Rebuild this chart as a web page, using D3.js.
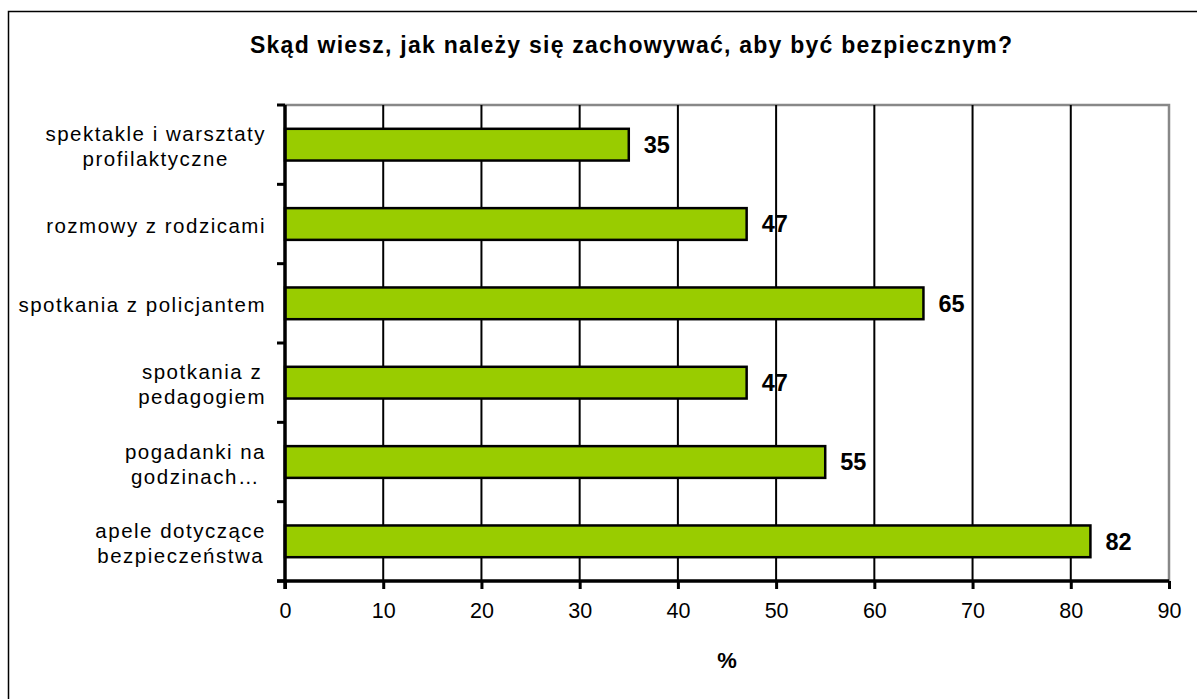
<!DOCTYPE html>
<html>
<head>
<meta charset="utf-8">
<script src="https://cdn.jsdelivr.net/npm/d3@7"></script>
<style>
  html, body { margin: 0; padding: 0; background: #fff; }
  svg { display: block; font-family: Arial, "Liberation Sans", sans-serif; }
</style>
</head>
<body>
<svg id="chart" width="1197" height="699"></svg>
<script>
const categories = [
  ["spektakle i warsztaty", "profilaktyczne"],
  ["rozmowy z rodzicami"],
  ["spotkania z policjantem"],
  ["spotkania z ", "pedagogiem"],
  ["pogadanki na", "godzinach…"],
  ["apele dotyczące", "bezpieczeństwa"]
];
const values = [35, 47, 65, 47, 55, 82];
const xTicks = [0, 10, 20, 30, 40, 50, 60, 70, 80, 90];
const title = "Skąd wiesz, jak należy się zachowywać, aby być bezpiecznym?";
const xTitle = "%";

const svg = d3.select("#chart");
const margin = { left: 285, top: 105, right: 1169, bottom: 581 };

// outer frame
svg.append("rect")
  .attr("x", 8.5).attr("y", 11.5)
  .attr("width", 1230).attr("height", 730)
  .attr("fill", "none").attr("stroke", "#000").attr("stroke-width", 1.5);

const x = d3.scaleLinear().domain([0, 90]).range([margin.left, margin.right]);
const y = d3.scaleBand().domain(d3.range(categories.length))
  .range([margin.top, margin.bottom]).paddingInner(0.6).paddingOuter(0.3);
const yb = d3.scaleBand().domain(d3.range(categories.length))
  .range([margin.top, margin.bottom]);

// plot border (top/right gray)
svg.append("path")
  .attr("d", `M${margin.left},${margin.top}H${margin.right}V${margin.bottom}`)
  .attr("fill", "none").attr("stroke", "#888").attr("stroke-width", 2.5);

// gridlines
svg.append("g").selectAll("line")
  .data(xTicks.filter(t => t > 0 && t < 90))
  .join("line")
  .attr("x1", d => x(d)).attr("x2", d => x(d))
  .attr("y1", margin.top).attr("y2", margin.bottom)
  .attr("stroke", "#000").attr("stroke-width", 2);

// bars
svg.append("g").selectAll("rect")
  .data(values)
  .join("rect")
  .attr("x", x(0))
  .attr("y", (d, i) => y(i))
  .attr("width", d => x(d) - x(0))
  .attr("height", y.bandwidth())
  .attr("fill", "#99CC00")
  .attr("stroke", "#000").attr("stroke-width", 2.5);

// value labels
svg.append("g").selectAll("text")
  .data(values)
  .join("text")
  .attr("x", d => x(d) + 15)
  .attr("y", (d, i) => y(i) + y.bandwidth() / 2)
  .attr("dy", "0.36em")
  .attr("font-size", 23.5).attr("font-weight", "bold")
  .text(d => d);

// x axis
const xAxis = d3.axisBottom(x).tickValues(xTicks).tickSize(8).tickPadding(14);
const gx = svg.append("g").attr("transform", `translate(0,${margin.bottom})`).call(xAxis);
gx.select(".domain").attr("stroke", "#000").attr("stroke-width", 3.5)
  .attr("d", `M${margin.left - 8},0H${margin.right}`);
gx.selectAll(".tick line").attr("stroke", "#000").attr("stroke-width", 3);
gx.selectAll(".tick text").attr("font-size", 21.5).attr("fill", "#000")
  .attr("font-family", "Arial, 'Liberation Sans', sans-serif");

// y axis
const yAxisG = svg.append("g");
yAxisG.append("line")
  .attr("x1", margin.left).attr("x2", margin.left)
  .attr("y1", margin.top).attr("y2", margin.bottom + 8)
  .attr("stroke", "#000").attr("stroke-width", 3.5);
yAxisG.selectAll("line.tk")
  .data(d3.range(categories.length + 1))
  .join("line").attr("class", "tk")
  .attr("x1", margin.left - 8).attr("x2", margin.left)
  .attr("y1", i => i < categories.length ? yb(i) : margin.bottom)
  .attr("y2", i => i < categories.length ? yb(i) : margin.bottom)
  .attr("stroke", "#000").attr("stroke-width", 3);

// category labels
const lineH = 25;
const labelRight = 266;
categories.forEach((lines, i) => {
  const cy = yb(i) + yb.bandwidth() / 2;
  const g = svg.append("g");
  const texts = lines.map((ln, j) => g.append("text")
    .attr("font-size", 20.5).attr("letter-spacing", 1.5).attr("fill", "#000")
    .attr("text-anchor", "middle")
    .attr("y", cy + (j - (lines.length - 1) / 2) * lineH)
    .attr("dy", "0.44em")
    .text(ln));
  const maxW = d3.max(texts, t => t.node().getComputedTextLength());
  texts.forEach(t => t.attr("x", labelRight - maxW / 2));
});

// title: fit to the span the reference title occupies
const titleEl = svg.append("text")
  .attr("x", 250).attr("y", 53)
  .attr("font-size", 23).attr("font-weight", "bold")
  .text(title);
const natW = titleEl.node().getComputedTextLength();
const targetW = 762;
titleEl.attr("letter-spacing", (targetW - natW) / (title.length - 1));

// x title
svg.append("text")
  .attr("x", 727).attr("y", 668)
  .attr("text-anchor", "middle")
  .attr("font-size", 22).attr("font-weight", "bold")
  .text(xTitle);
</script>
</body>
</html>
